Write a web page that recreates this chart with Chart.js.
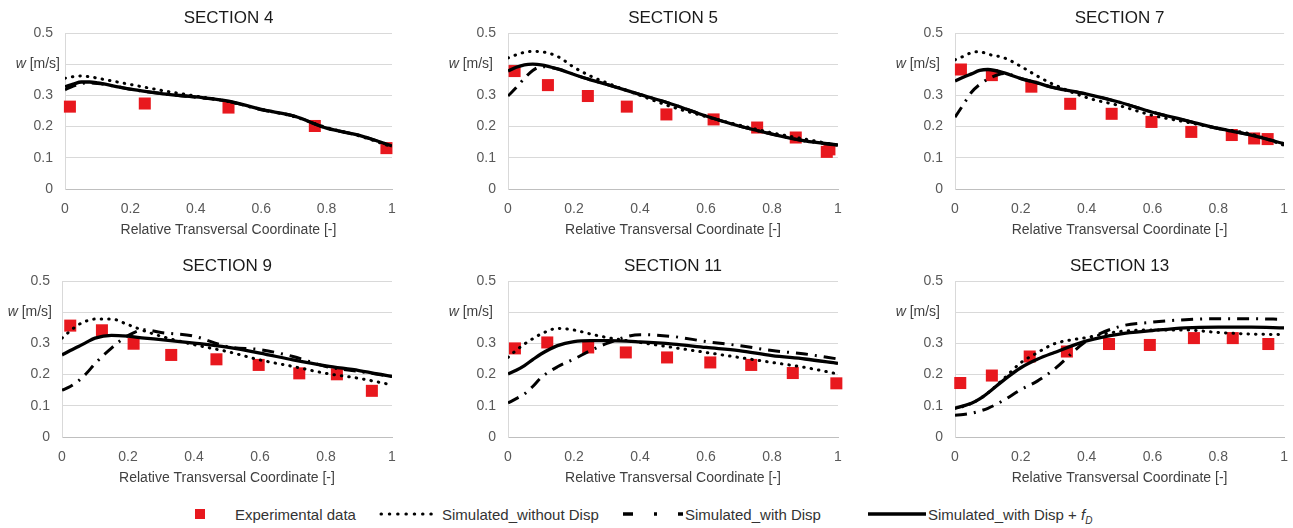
<!DOCTYPE html>
<html>
<head>
<meta charset="utf-8">
<script src="https://cdn.jsdelivr.net/npm/chart.js@4.4.1/dist/chart.umd.min.js"></script>
<style>
  html, body { margin: 0; padding: 0; background: #fff; overflow: hidden; width: 1293px; height: 528px; }
  body { position: relative; font-family: "Liberation Sans", Arial, sans-serif; }
  canvas { position: absolute; }
  .lg { position: absolute; top: 506px; font-size: 15px; line-height: 18px; color: #333; white-space: nowrap; }
  .sw { position: absolute; }
</style>
</head>
<body>
<canvas id="c0" width="430" height="240" style="left:0;top:0"></canvas>
<canvas id="c1" width="430" height="240" style="left:430px;top:0"></canvas>
<canvas id="c2" width="440" height="240" style="left:860px;top:0"></canvas>
<canvas id="c3" width="430" height="240" style="left:0;top:248px"></canvas>
<canvas id="c4" width="430" height="240" style="left:430px;top:248px"></canvas>
<canvas id="c5" width="440" height="240" style="left:860px;top:248px"></canvas>

<div class="sw" style="left:195px;top:509px;width:10px;height:10px;background:#e8181e"></div>
<div class="lg" style="left:235px">Experimental data</div>
<svg class="sw" style="left:378px;top:511px" width="62" height="6"><line x1="3" y1="3" x2="60" y2="3" stroke="#000" stroke-width="3" stroke-linecap="round" stroke-dasharray="0.5 7.8"/></svg>
<div class="lg" style="left:442px">Simulated_without Disp</div>
<svg class="sw" style="left:623px;top:511px" width="60" height="6"><line x1="0" y1="3" x2="60" y2="3" stroke="#000" stroke-width="3.5" stroke-dasharray="10 21 3 21"/></svg>
<div class="lg" style="left:685px">Simulated_with Disp</div>
<svg class="sw" style="left:868px;top:511px" width="58" height="6"><line x1="0" y1="3" x2="58" y2="3" stroke="#000" stroke-width="3.5"/></svg>
<div class="lg" style="left:928px">Simulated_with Disp + <i>f</i><sub style="font-size:10px"><i>D</i></sub></div>

<script>
// section names
const sections = ['SECTION 4', 'SECTION 5', 'SECTION 7', 'SECTION 9', 'SECTION 11', 'SECTION 13'];

// tick labels (0.4 is replaced by the unit label)
const xTickLabels = ['0', '0.2', '0.4', '0.6', '0.8', '1'];
const yTickLabels = ['0', '0.1', '0.2', '0.3', '', '0.5'];

// transversal coordinate of the simulated profiles
const simX = [0, 0.025, 0.05, 0.075, 0.1, 0.15, 0.2, 0.25, 0.3, 0.4, 0.5, 0.6, 0.7, 0.8, 0.9, 1];

// section 4
const exp4X = [0.015, 0.244, 0.5, 0.764, 0.983];
const exp4Y = [0.264, 0.274, 0.261, 0.202, 0.131];
const noDisp4 = [0.355, 0.36, 0.362, 0.36, 0.355, 0.345, 0.335, 0.325, 0.315, 0.298, 0.28, 0.255, 0.232, 0.197, 0.17, 0.135];
const disp4 = [0.318, 0.33, 0.338, 0.34, 0.338, 0.33, 0.32, 0.312, 0.305, 0.294, 0.281, 0.254, 0.234, 0.195, 0.172, 0.138];
const dispFD4 = [0.328, 0.336, 0.343, 0.343, 0.34, 0.33, 0.32, 0.312, 0.305, 0.295, 0.282, 0.255, 0.234, 0.195, 0.172, 0.138];

// section 5
const exp5X = [0.02, 0.121, 0.242, 0.36, 0.48, 0.623, 0.755, 0.872, 0.966, 0.974];
const exp5Y = [0.378, 0.333, 0.298, 0.264, 0.239, 0.223, 0.197, 0.165, 0.119, 0.127];
const noDisp5 = [0.42, 0.43, 0.438, 0.441, 0.44, 0.425, 0.39, 0.362, 0.34, 0.3, 0.262, 0.232, 0.205, 0.18, 0.16, 0.14];
const disp5 = [0.298, 0.325, 0.355, 0.38, 0.392, 0.385, 0.367, 0.35, 0.335, 0.303, 0.271, 0.234, 0.202, 0.176, 0.154, 0.141];
const dispFD5 = [0.378, 0.39, 0.398, 0.4, 0.398, 0.385, 0.367, 0.35, 0.335, 0.303, 0.271, 0.234, 0.202, 0.176, 0.154, 0.141];

// section 7
const exp7X = [0.018, 0.112, 0.232, 0.35, 0.476, 0.597, 0.718, 0.841, 0.909, 0.95];
const exp7Y = [0.383, 0.365, 0.328, 0.273, 0.241, 0.215, 0.183, 0.173, 0.162, 0.16];
const noDisp7 = [0.414, 0.425, 0.437, 0.44, 0.432, 0.42, 0.393, 0.362, 0.335, 0.293, 0.267, 0.236, 0.215, 0.194, 0.176, 0.14];
const disp7 = [0.23, 0.27, 0.31, 0.335, 0.352, 0.37, 0.354, 0.34, 0.325, 0.304, 0.278, 0.246, 0.22, 0.194, 0.173, 0.145];
const dispFD7 = [0.346, 0.358, 0.369, 0.38, 0.383, 0.372, 0.354, 0.34, 0.325, 0.304, 0.278, 0.246, 0.22, 0.194, 0.173, 0.145];

// section 9
const exp9X = [0.025, 0.121, 0.217, 0.331, 0.468, 0.596, 0.719, 0.833, 0.939];
const exp9Y = [0.357, 0.342, 0.299, 0.263, 0.249, 0.231, 0.204, 0.201, 0.148];
const noDisp9 = [0.317, 0.34, 0.36, 0.372, 0.378, 0.378, 0.36, 0.34, 0.323, 0.296, 0.274, 0.247, 0.226, 0.204, 0.188, 0.167];
const disp9 = [0.15, 0.162, 0.18, 0.205, 0.235, 0.285, 0.325, 0.344, 0.335, 0.323, 0.29, 0.28, 0.258, 0.226, 0.21, 0.194];
const dispFD9 = [0.263, 0.277, 0.29, 0.304, 0.317, 0.326, 0.323, 0.317, 0.312, 0.301, 0.288, 0.269, 0.247, 0.228, 0.213, 0.194];

// section 11
const exp11X = [0.021, 0.119, 0.243, 0.357, 0.482, 0.613, 0.737, 0.863, 0.995];
const exp11Y = [0.284, 0.303, 0.287, 0.271, 0.255, 0.239, 0.231, 0.205, 0.172];
const noDisp11 = [0.255, 0.278, 0.298, 0.315, 0.33, 0.348, 0.343, 0.33, 0.319, 0.303, 0.287, 0.271, 0.255, 0.239, 0.223, 0.202];
const disp11 = [0.109, 0.123, 0.138, 0.162, 0.19, 0.225, 0.25, 0.277, 0.3, 0.328, 0.322, 0.306, 0.293, 0.277, 0.266, 0.25];
const dispFD11 = [0.202, 0.214, 0.229, 0.248, 0.266, 0.293, 0.306, 0.309, 0.309, 0.305, 0.298, 0.287, 0.277, 0.261, 0.25, 0.236];

// section 13
const exp13X = [0.016, 0.112, 0.227, 0.34, 0.468, 0.592, 0.726, 0.844, 0.952];
const exp13Y = [0.173, 0.197, 0.258, 0.274, 0.298, 0.295, 0.317, 0.317, 0.298];
const noDisp13 = [0.092, 0.098, 0.108, 0.122, 0.141, 0.189, 0.238, 0.27, 0.298, 0.319, 0.338, 0.343, 0.343, 0.335, 0.33, 0.328];
const disp13 = [0.07, 0.072, 0.076, 0.083, 0.092, 0.119, 0.152, 0.179, 0.216, 0.308, 0.354, 0.368, 0.376, 0.379, 0.379, 0.377];
const dispFD13 = [0.092, 0.1, 0.108, 0.122, 0.141, 0.184, 0.222, 0.249, 0.27, 0.308, 0.33, 0.341, 0.35, 0.352, 0.352, 0.35];

const expX = [exp4X, exp5X, exp7X, exp9X, exp11X, exp13X];
const expY = [exp4Y, exp5Y, exp7Y, exp9Y, exp11Y, exp13Y];
const noDisp = [noDisp4, noDisp5, noDisp7, noDisp9, noDisp11, noDisp13];
const disp = [disp4, disp5, disp7, disp9, disp11, disp13];
const dispFD = [dispFD4, dispFD5, dispFD7, dispFD9, dispFD11, dispFD13];

// chart area placement inside each canvas
const axisLeft = [65, 78, 95, 62, 78, 95];
const padRight = [38, 22, 13, 38, 22, 13];
const unitGap = [5, 15, 15, 10, 15, 15];

const FONT = '"Liberation Sans", Arial, sans-serif';
const RED = '#e8181e';

function pts(xs, ys) {
  return xs.map((x, i) => ({ x: x, y: ys[i] }));
}

// draws "w [m/s]" next to the 0.4 gridline
const unitLabel = {
  id: 'unitLabel',
  afterDraw(chart, args, opts) {
    const ctx = chart.ctx;
    const y = chart.scales.y.getPixelForValue(0.4);
    const right = chart.chartArea.left - opts.gap;
    ctx.save();
    ctx.textBaseline = 'middle';
    ctx.fillStyle = '#404040';
    ctx.font = '14px ' + FONT;
    const rest = ' [m/s]';
    const wRest = ctx.measureText(rest).width;
    ctx.textAlign = 'right';
    ctx.fillText(rest, right, y);
    ctx.font = 'italic 14px ' + FONT;
    ctx.fillText('w', right - wRest, y);
    ctx.restore();
  }
};

sections.forEach((name, k) => {
  new Chart(document.getElementById('c' + k), {
    type: 'line',
    data: {
      datasets: [
        {
          label: 'Simulated_with Disp + fD',
          data: pts(simX, dispFD[k]),
          borderColor: '#000',
          borderWidth: 3.3,
          pointRadius: 0,
          cubicInterpolationMode: 'monotone'
        },
        {
          label: 'Simulated_with Disp',
          data: pts(simX, disp[k]),
          borderColor: '#000',
          borderWidth: 3,
          borderDash: [12, 7, 2, 7],
          pointRadius: 0,
          cubicInterpolationMode: 'monotone'
        },
        {
          label: 'Simulated_without Disp',
          data: pts(simX, noDisp[k]),
          borderColor: '#000',
          borderWidth: 3,
          borderDash: [0.5, 7],
          borderCapStyle: 'round',
          pointRadius: 0,
          cubicInterpolationMode: 'monotone'
        },
        {
          label: 'Experimental data',
          data: pts(expX[k], expY[k]),
          showLine: false,
          pointStyle: 'rect',
          pointRadius: 8.5,
          pointBorderWidth: 0,
          backgroundColor: RED,
          borderColor: RED,
          clip: false
        }
      ]
    },
    options: {
      responsive: false,
      animation: false,
      devicePixelRatio: 1,
      layout: { padding: { left: 0, right: padRight[k], top: 0, bottom: 1 } },
      plugins: {
        legend: { display: false },
        tooltip: { enabled: false },
        title: {
          display: true,
          text: name,
          fullSize: false,
          color: '#1a1a1a',
          font: { family: FONT, size: 17, weight: 'normal' },
          padding: { top: 8, bottom: 4.6 }
        },
        unitLabel: { gap: unitGap[k] }
      },
      scales: {
        x: {
          type: 'linear',
          min: 0,
          max: 1,
          grid: { display: false, drawTicks: false },
          border: { display: true, color: '#bfbfbf' },
          ticks: {
            stepSize: 0.2,
            padding: 12,
            color: '#595959',
            font: { family: FONT, size: 14 },
            callback: (v, i) => xTickLabels[i]
          },
          title: {
            display: true,
            text: 'Relative Transversal Coordinate [-]',
            color: '#404040',
            padding: 0,
            font: { family: FONT, size: 14 }
          },
          afterFit: s => { s.height = 50; }
        },
        y: {
          min: 0,
          max: 0.5,
          grid: { color: '#d9d9d9', drawTicks: false },
          border: { display: true, color: '#d9d9d9' },
          ticks: {
            stepSize: 0.1,
            padding: 12,
            color: '#595959',
            font: { family: FONT, size: 14 },
            callback: (v, i) => yTickLabels[i]
          },
          afterFit: s => { s.width = axisLeft[k]; }
        }
      }
    },
    plugins: [unitLabel]
  });
});
</script>
</body>
</html>
